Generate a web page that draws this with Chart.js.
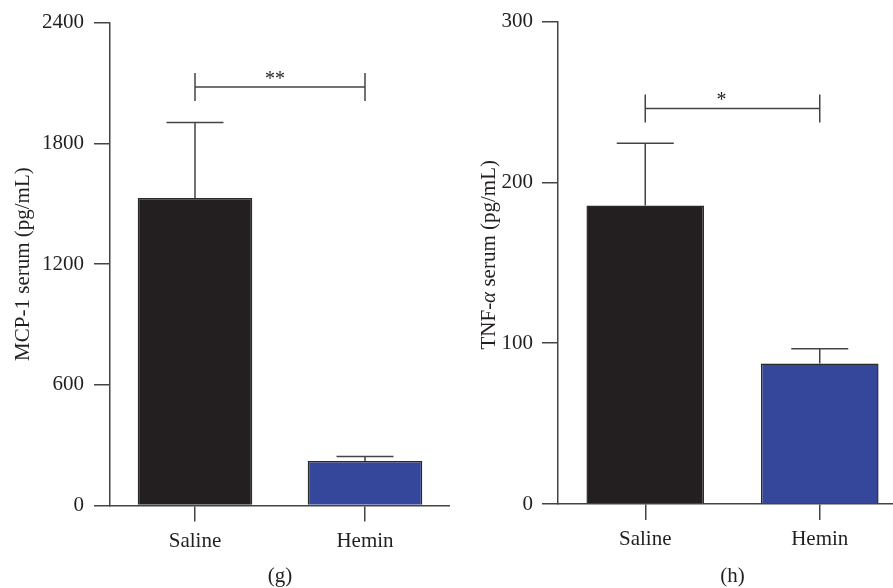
<!DOCTYPE html>
<html><head><meta charset="utf-8">
<script src="https://cdn.jsdelivr.net/npm/chart.js@4"></script>
<style>
html,body{margin:0;padding:0;overflow:hidden;background:#fff;width:893px;height:588px;position:relative}
canvas{position:absolute;top:0}
</style></head>
<body>
<canvas id="g" width="450" height="588" style="left:0px"></canvas>
<canvas id="h" width="464" height="588" style="left:443px"></canvas>
<script>
const categories = ['Saline', 'Hemin'];
const mcpMean = [1528, 221];
const mcpSem = [375, 22];
const mcpTicks = [0, 600, 1200, 1800, 2400];
const mcpBracket = 2080;
const tnfMean = [185.7, 87.3];
const tnfSem = [38.7, 9.2];
const tnfTicks = [0, 100, 200, 300];
const tnfBracket = 246;
const barColors = ['#231f20', '#34479a'];
const mcpTitle = 'MCP-1 serum (pg/mL)';
const tnfTitleParts = [['TNF-', 'normal'], ['α', 'italic'], [' serum (pg/mL)', 'normal']];

const FONT = '"Liberation Serif", "Times New Roman", serif';
const FS = 21;
const TXT = '#231f20';
const AX = '#444444';

function annot(mean, sem, bracket, stars, starDx) {
  return {
    id: 'annot',
    afterDatasetsDraw(chart) {
      const ctx = chart.ctx, y = chart.scales.y, meta = chart.getDatasetMeta(0);
      ctx.save();
      ctx.strokeStyle = AX; ctx.lineWidth = 1.5;
      meta.data.forEach((bar, i) => {
        const top = y.getPixelForValue(mean[i] + sem[i]);
        ctx.beginPath();
        ctx.moveTo(bar.x, bar.y); ctx.lineTo(bar.x, top);
        ctx.moveTo(bar.x - 28.5, top); ctx.lineTo(bar.x + 28.5, top);
        ctx.stroke();
      });
      const b = y.getPixelForValue(bracket);
      const x1 = meta.data[0].x, x2 = meta.data[1].x;
      ctx.beginPath();
      ctx.moveTo(x1, b); ctx.lineTo(x2, b);
      ctx.moveTo(x1, b - 14); ctx.lineTo(x1, b + 14);
      ctx.moveTo(x2, b - 14); ctx.lineTo(x2, b + 14);
      ctx.stroke();
      ctx.fillStyle = TXT;
      ctx.font = '20px ' + FONT;
      ctx.textAlign = 'center';
      ctx.textBaseline = 'alphabetic';
      ctx.fillText(stars, (x1 + x2) / 2 + starDx, b - 2);
      ctx.restore();
    }
  };
}

const tnfTitlePlugin = {
  id: 'tnfTitle',
  afterDraw(chart) {
    const ctx = chart.ctx, a = chart.chartArea;
    ctx.save();
    ctx.translate(46, (a.top + a.bottom) / 2 - 8);
    ctx.rotate(-Math.PI / 2);
    ctx.fillStyle = TXT;
    ctx.textBaseline = 'middle';
    ctx.textAlign = 'left';
    let total = 0;
    const widths = tnfTitleParts.map(([t, s]) => { ctx.font = s + ' ' + FS + 'px ' + FONT; const w = ctx.measureText(t).width; total += w; return w; });
    let x = -total / 2;
    tnfTitleParts.forEach(([t, s], i) => { ctx.font = s + ' ' + FS + 'px ' + FONT; ctx.fillText(t, x, 0); x += widths[i]; });
    ctx.restore();
  }
};

function makeChart(id, mean, ticks, max, yWidth, xHeight, padTop, tickPad, caption, yTitle, plugins) {
  return new Chart(document.getElementById(id), {
    type: 'bar',
    data: {
      labels: categories,
      datasets: [{
        data: mean,
        backgroundColor: barColors,
        borderColor: '#2a2a2a',
        borderWidth: 1.5,
        barPercentage: 0.674,
        categoryPercentage: 1
      }]
    },
    options: {
      responsive: false,
      animation: false,
      layout: { padding: { top: padTop, left: 0, right: 0, bottom: 0 } },
      plugins: { legend: { display: false }, tooltip: { enabled: false } },
      scales: {
        x: {
          type: 'category',
          grid: { offset: false, drawOnChartArea: false, tickLength: 16, color: AX, lineWidth: 1.5 },
          border: { color: AX, width: 1.5 },
          ticks: { font: { family: FONT, size: FS }, color: TXT, padding: 7, maxRotation: 0 },
          title: { display: true, text: caption, font: { family: FONT, size: FS, lineHeight: 1.1 }, color: TXT, padding: { top: 0, bottom: 0 } },
          afterFit(s) { s.height = xHeight; }
        },
        y: {
          min: 0, max: max,
          afterBuildTicks(s) { s.ticks = ticks.map(v => ({ value: v })); },
          grid: { drawOnChartArea: false, tickLength: 16, color: AX, lineWidth: 1.5 },
          border: { color: AX, width: 1.5 },
          ticks: { font: { family: FONT, size: FS }, color: TXT, padding: tickPad, callback: v => String(v) },
          title: { display: !!yTitle, text: yTitle || '', font: { family: FONT, size: FS }, color: TXT, padding: { top: 11, bottom: 0 } },
          afterFit(s) { s.width = yWidth; }
        }
      }
    },
    plugins: plugins
  });
}

makeChart('g', mcpMean, mcpTicks, 2400, 110, 82.5, 19, 10, '(g)', mcpTitle,
  [annot(mcpMean, mcpSem, mcpBracket, '**', -5)]);
makeChart('h', tnfMean, tnfTicks, 300, 115, 84, 18, 9, '(h)', null,
  [annot(tnfMean, tnfSem, tnfBracket, '*', -11), tnfTitlePlugin]);
</script>
</body></html>
